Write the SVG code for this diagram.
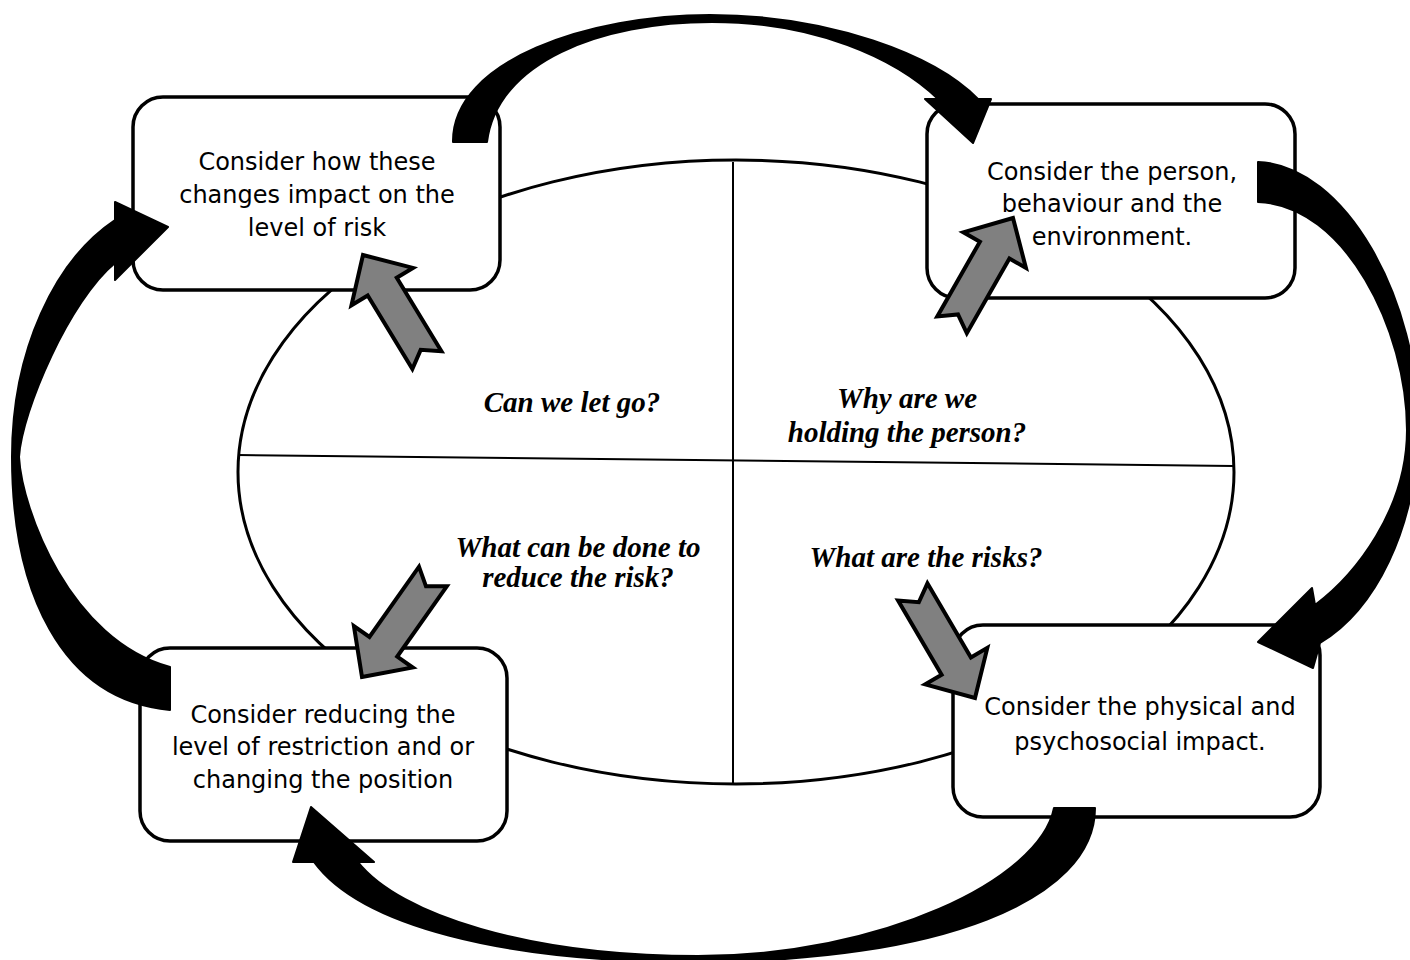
<svg xmlns="http://www.w3.org/2000/svg" width="1410" height="960" viewBox="0 0 1410 960">
<style>
.box{fill:#fff;stroke:#000;stroke-width:3.5}
.bt{font-family:"DejaVu Sans",Verdana,sans-serif;font-size:24px;fill:#000;text-anchor:middle}
.q{font-family:"Liberation Serif","Times New Roman",serif;font-size:29px;font-weight:bold;font-style:italic;fill:#000;text-anchor:middle}
.blk{fill:#000;stroke:#000;stroke-width:2;stroke-linejoin:round}
.gray{fill:#808080;stroke:#000;stroke-width:4;stroke-linejoin:miter}
.ln{fill:none;stroke:#000;stroke-width:2}
</style>
<defs>
<path id="garrow" d="M 0 0 L -37 -36 L -37 -17 L -123 -17 L -111 0 L -123 17 L -37 17 L -37 36 Z"/>
</defs>
<rect width="1410" height="960" fill="#fff"/>
<g id="ellipse">
<ellipse cx="736" cy="472" rx="498" ry="312" fill="#fff" stroke="#000" stroke-width="3"/>
<line class="ln" x1="238" y1="455" x2="1233" y2="466"/>
<line class="ln" x1="733" y1="162" x2="733" y2="783"/>
</g>
<g id="box-tl">
<rect class="box" x="133" y="97" width="367" height="193" rx="30"/>
<text class="bt" x="317" y="170">Consider how these</text>
<text class="bt" x="317" y="203">changes impact on the</text>
<text class="bt" x="317" y="236">level of risk</text>
</g>
<g id="box-tr">
<rect class="box" x="927" y="104" width="368" height="194" rx="30"/>
<text class="bt" x="1112" y="180">Consider the person,</text>
<text class="bt" x="1112" y="212">behaviour and the</text>
<text class="bt" x="1112" y="245">environment.</text>
</g>
<g id="box-bl">
<rect class="box" x="140" y="648" width="367" height="193" rx="30"/>
<text class="bt" x="323" y="723">Consider reducing the</text>
<text class="bt" x="323" y="755">level of restriction and or</text>
<text class="bt" x="323" y="788">changing the position</text>
</g>
<g id="box-br">
<rect class="box" x="953" y="625" width="367" height="192" rx="30"/>
<text class="bt" x="1140" y="715">Consider the physical and</text>
<text class="bt" x="1140" y="750">psychosocial impact.</text>
</g>
<g id="questions">
<text class="q" x="572" y="412">Can we let go?</text>
<text class="q" x="907" y="408">Why are we</text>
<text class="q" x="907" y="442">holding the person?</text>
<text class="q" x="578" y="557">What can be done to</text>
<text class="q" x="578" y="587">reduce the risk?</text>
<text class="q" x="926" y="567">What are the risks?</text>
</g>
<g id="connectors">
<use href="#garrow" class="gray" transform="translate(363 255) rotate(-121.3)"/>
<use href="#garrow" class="gray" transform="translate(1013 218) rotate(-60.3)"/>
<use href="#garrow" class="gray" transform="translate(362 677) rotate(125.2)"/>
<use href="#garrow" class="gray" transform="translate(975 698) rotate(59.6)"/>
<path class="blk" d="M 453 142 C 452 60, 590 15, 710 15 C 830 15, 935 55, 978 99 L 991 99 L 973 143 L 925 99 L 938 99 C 895 58, 815 22, 712 22 C 600 22, 497 62, 487 142 Z"/>
<path class="blk" d="M 1258 162 C 1345 165, 1420 300, 1418 430 C 1416 530, 1375 610, 1320 643 L 1313 668 L 1258 642 L 1312 588 L 1315 605 C 1355 575, 1407 510, 1407 430 C 1407 330, 1345 205, 1258 202 Z"/>
<path class="blk" d="M 1095 808 C 1095 900, 940 962, 695 962 C 500 962, 360 925, 314 862 L 293 862 L 311 807 L 374 862 L 358 862 C 400 915, 530 956, 698 956 C 880 956, 1040 880, 1054 808 Z"/>
<path class="blk" d="M 170 710 C 60 700, 12 590, 12 457 C 12 350, 55 260, 115 220 L 115 202 L 168 227 L 115 280 L 115 263 C 70 300, 22 410, 19 457 C 22 510, 70 640, 170 667 Z"/>
</g>
</svg>
